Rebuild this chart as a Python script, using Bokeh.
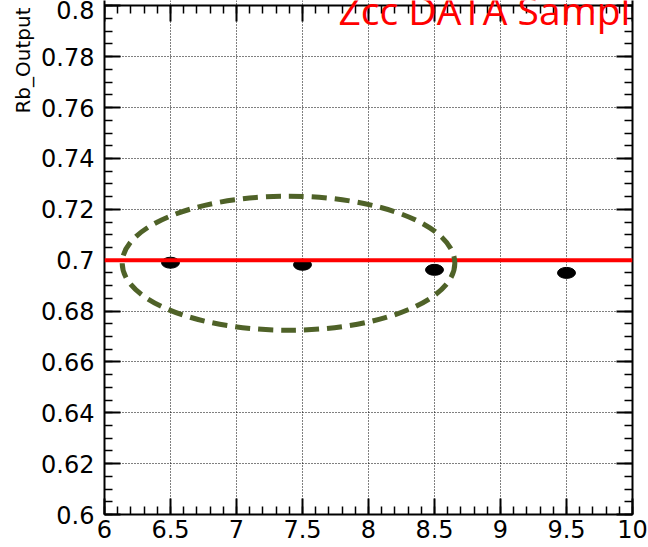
import numpy as np
from bokeh.plotting import figure
from bokeh.models import FixedTicker, LinearAxis, Span, Label, Range1d, Title
from bokeh.embed import file_html
from bokeh.resources import INLINE

# ---- data ----
x_values = [6.5, 7.5, 8.5, 9.5]
rb_output = [0.6990, 0.6982, 0.6962, 0.6950]
reference_value = 0.7

x_ticks = [6, 6.5, 7, 7.5, 8, 8.5, 9, 9.5, 10]
x_tick_labels = ["6", "6.5", "7", "7.5", "8", "8.5", "9", "9.5", "10"]
y_ticks = [0.6, 0.62, 0.64, 0.66, 0.68, 0.7, 0.72, 0.74, 0.76, 0.78, 0.8]
y_tick_labels = ["0.6", "0.62", "0.64", "0.66", "0.68", "0.7", "0.72", "0.74", "0.76", "0.78", "0.8"]

ellipse_x = [7.394]
ellipse_y = [0.6988]
ellipse_w = [2.52]
ellipse_h = [0.0527]

title_text = "Zcc DATA Sample"
y_title = "Rb_Output"

x_minor = [round(v, 2) for v in np.arange(6.0, 10.0001, 0.1)]
y_minor = [round(v, 3) for v in np.arange(0.6, 0.80001, 0.005)]

FONT = "DejaVu Sans"

# y range extends a few pixels above 0.8 (the reference is cropped just above the frame)
p = figure(width=648, height=547,
           x_range=Range1d(6, 10), y_range=Range1d(0.6, 0.8021),
           output_backend="svg", toolbar_location=None,
           min_border_left=104, min_border_right=16,
           min_border_top=0, min_border_bottom=33)
p.outline_line_color = None
p.background_fill_color = "white"
p.border_fill_color = "white"


def style_axis(ax, show_labels):
    ax.major_tick_in = 16
    ax.major_tick_out = 0
    ax.minor_tick_in = 8
    ax.minor_tick_out = 0
    ax.axis_line_width = 2
    ax.axis_line_color = "black"
    ax.major_tick_line_width = 2
    ax.major_tick_line_color = "black"
    ax.minor_tick_line_width = 1.5
    ax.minor_tick_line_color = "black"
    if show_labels:
        ax.major_label_text_font = FONT
        ax.major_label_text_font_size = "24px"
        ax.major_label_text_color = "black"
    else:
        ax.major_label_text_font_size = "1px"
        ax.major_label_text_color = None
        ax.major_label_standoff = 0


xa = p.xaxis[0]
xa.ticker = FixedTicker(ticks=x_ticks, minor_ticks=x_minor)
style_axis(xa, True)
xa.major_label_overrides = {t: l for t, l in zip(x_ticks, x_tick_labels)}
xa.major_label_standoff = 5

ya = p.yaxis[0]
ya.ticker = FixedTicker(ticks=y_ticks, minor_ticks=y_minor)
style_axis(ya, True)
ya.major_label_overrides = {t: l for t, l in zip(y_ticks, y_tick_labels)}
ya.major_label_standoff = 10

top_ax = LinearAxis(ticker=FixedTicker(ticks=x_ticks, minor_ticks=x_minor),
                    fixed_location=0.8)
style_axis(top_ax, False)
p.add_layout(top_ax, "above")

right_ax = LinearAxis(ticker=FixedTicker(ticks=y_ticks, minor_ticks=y_minor))
style_axis(right_ax, False)
p.add_layout(right_ax, "right")

p.xgrid.ticker = FixedTicker(ticks=x_ticks)
p.ygrid.ticker = FixedTicker(ticks=y_ticks)
for g in (p.xgrid, p.ygrid):
    g.grid_line_color = "black"
    g.grid_line_width = 1
    g.grid_line_dash = "1 2"
    g.grid_line_alpha = 1.0

# data points
p.ellipse(x=x_values, y=rb_output, width=18, height=11,
          width_units="screen", height_units="screen",
          fill_color="black", line_color="black")

# reference line
p.add_layout(Span(location=reference_value, dimension="width",
                  line_color="#ff0000", line_width=4))

# dashed highlight ellipse
p.ellipse(x=ellipse_x, y=ellipse_y, width=ellipse_w, height=ellipse_h,
          fill_alpha=0, line_color="#4f6228", line_width=5,
          line_dash="15 8", level="overlay")

# y-axis title at the top end of the axis
p.add_layout(Title(text=y_title, align="right", text_font=FONT,
                   text_font_size="20px", text_font_style="normal",
                   text_color="black", standoff=7, offset=7), "left")

# red overlay title
p.add_layout(Label(x=7.773, y=0.7986, text=title_text,
                   text_align="left", text_baseline="alphabetic",
                   text_font="Open Sans", text_font_size="39px",
                   text_color="#ff0000"))

open("out.html", "w").write(file_html(p, INLINE))
